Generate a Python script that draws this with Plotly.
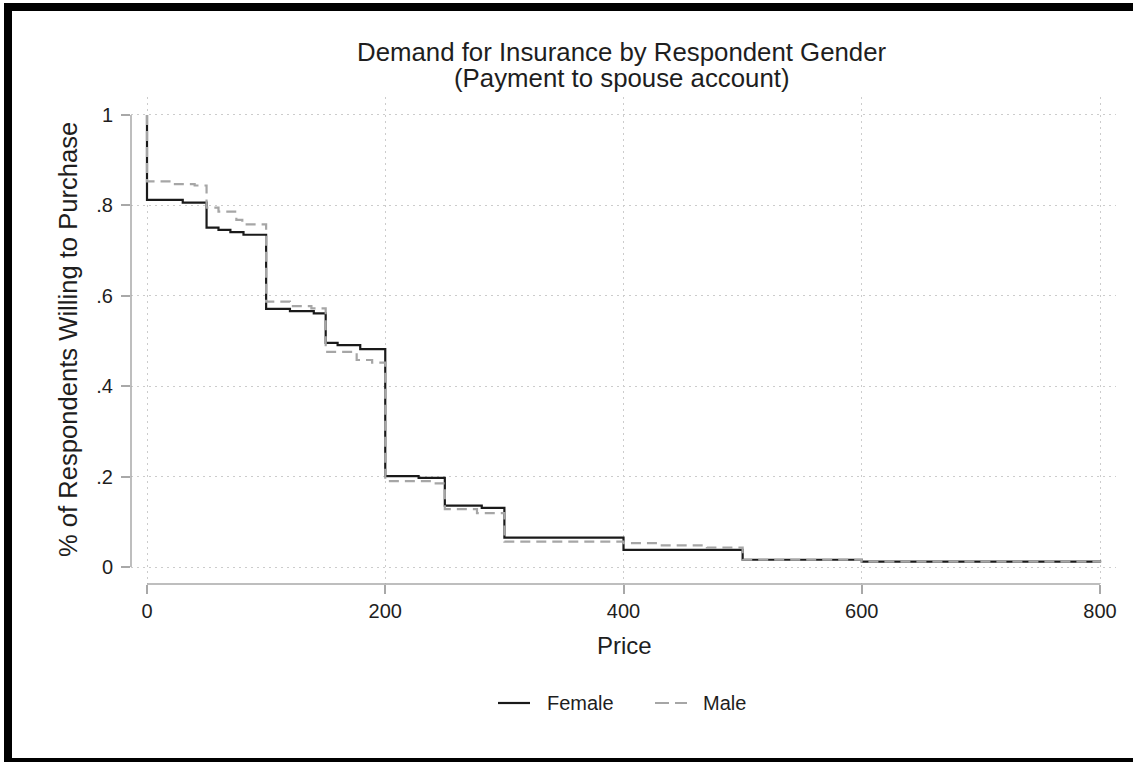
import plotly.graph_objects as go

# ---- data ----
female_price = [0, 0, 30, 50, 60, 70, 81, 100, 120, 140, 150, 160, 179, 200, 228, 250, 281, 300, 400, 500, 600, 800]
female_share = [1.0, 0.812, 0.806, 0.751, 0.746, 0.741, 0.735, 0.571, 0.566, 0.561, 0.496, 0.491, 0.482,
                0.201, 0.197, 0.136, 0.131, 0.065, 0.038, 0.016, 0.012, 0.010]

male_price = [0, 0, 20, 40, 50, 60, 75, 80, 100, 120, 138, 150, 176, 189, 200, 240, 250, 277, 300, 400, 430, 470, 500, 600, 800]
male_share = [1.0, 0.853, 0.847, 0.844, 0.795, 0.786, 0.768, 0.758, 0.587, 0.577, 0.572, 0.476, 0.458, 0.452,
              0.190, 0.185, 0.128, 0.119, 0.056, 0.053, 0.048, 0.043, 0.016, 0.012, 0.010]

x_ticks = [0, 200, 400, 600, 800]
y_ticks = [0, 0.2, 0.4, 0.6, 0.8, 1.0]
y_tick_labels = ["0", ".2", ".4", ".6", ".8", "1"]

series_names = ["Female", "Male"]
title_line1 = "Demand for Insurance by Respondent Gender"
title_line2 = "(Payment to spouse account)"

# ---- layout geometry (pixels) ----
W, H = 1133, 762
L, R, T, B = 131, 1116, 97, 584
pw, ph = R - L, B - T

def px_x(p):
    return (p - L) / pw

def px_y(p):
    return (B - p) / ph

FONT = "Liberation Sans, Arial, sans-serif"
TXT = "#1e1e1e"
AXC = "#a8a8a8"
FEM_C = "#1a1a1a"
MALE_C = "#a6a6a6"
MALE_DASH = "10px,6px"

fig = go.Figure()
fig.add_trace(go.Scatter(x=female_price, y=female_share, mode="lines", name=series_names[0],
                         line=dict(color=FEM_C, width=2.2, shape="hv")))
fig.add_trace(go.Scatter(x=male_price, y=male_share, mode="lines", name=series_names[1],
                         line=dict(color=MALE_C, width=2.2, shape="hv", dash=MALE_DASH)))

fig.update_layout(
    width=W, height=H,
    margin=dict(l=L, r=W - R, t=T, b=H - B, pad=0),
    paper_bgcolor="white", plot_bgcolor="white",
    font=dict(family=FONT, color=TXT, size=20),
    showlegend=False,
    xaxis=dict(range=[-13.43, 813.4], tickvals=x_ticks, ticks="outside", ticklen=9, tickwidth=1.5,
               tickcolor=AXC, showline=False, zeroline=False, showgrid=True, gridcolor="#cccccc",
               griddash="2px,4px", gridwidth=1, tickfont=dict(size=20, color=TXT), automargin=False),
    yaxis=dict(range=[-0.0376, 1.0398], tickvals=y_ticks, ticktext=y_tick_labels, ticks="outside",
               ticklen=9, tickwidth=1.5, tickcolor=AXC, showline=False, zeroline=False, showgrid=True,
               gridcolor="#cccccc", griddash="2px,4px", gridwidth=1, tickfont=dict(size=20, color=TXT),
               ticklabelstandoff=4, automargin=False),
)

# axis lines (offset Stata style)
fig.add_shape(type="line", xref="paper", yref="y", x0=0, x1=0, y0=0, y1=1,
              line=dict(color=AXC, width=1.5))
fig.add_shape(type="line", xref="x", yref="paper", x0=0, x1=800, y0=0, y1=0,
              line=dict(color=AXC, width=1.5))

# titles
fig.add_annotation(text=title_line1, xref="paper", yref="paper", x=px_x(622), y=px_y(52),
                   showarrow=False, xanchor="center", yanchor="middle", font=dict(size=25.8, color=TXT))
fig.add_annotation(text=title_line2, xref="paper", yref="paper", x=px_x(622), y=px_y(78),
                   showarrow=False, xanchor="center", yanchor="middle", font=dict(size=25.8, color=TXT))
fig.add_annotation(text="% of Respondents Willing to Purchase", xref="paper", yref="paper",
                   x=px_x(68), y=px_y(340), textangle=-90, showarrow=False,
                   xanchor="center", yanchor="middle", font=dict(size=25.6, color=TXT))
fig.add_annotation(text="Price", xref="paper", yref="paper", x=px_x(624), y=px_y(645),
                   showarrow=False, xanchor="center", yanchor="middle", font=dict(size=24, color=TXT))

# legend (drawn manually for Stata-like spacing)
LEG_Y = 703
fig.add_shape(type="line", xref="paper", yref="paper", x0=px_x(498), x1=px_x(530),
              y0=px_y(LEG_Y), y1=px_y(LEG_Y), line=dict(color=FEM_C, width=2.2))
fig.add_shape(type="line", xref="paper", yref="paper", x0=px_x(655), x1=px_x(687),
              y0=px_y(LEG_Y), y1=px_y(LEG_Y), line=dict(color=MALE_C, width=2.2, dash="14px,6px"))
fig.add_annotation(text=series_names[0], xref="paper", yref="paper", x=px_x(545), y=px_y(LEG_Y),
                   showarrow=False, xanchor="left", yanchor="middle", font=dict(size=20, color=TXT))
fig.add_annotation(text=series_names[1], xref="paper", yref="paper", x=px_x(701), y=px_y(LEG_Y),
                   showarrow=False, xanchor="left", yanchor="middle", font=dict(size=20, color=TXT))

# black frame around the image
for (x0, y0, x1, y1) in [(4, 3, 12, 762), (4, 3, 1133, 11), (4, 758, 1133, 762)]:
    fig.add_shape(type="rect", xref="paper", yref="paper",
                  x0=px_x(x0), x1=px_x(x1), y0=px_y(y1), y1=px_y(y0),
                  line=dict(width=0), fillcolor="black", layer="above")

fig.write_html("out.html")
